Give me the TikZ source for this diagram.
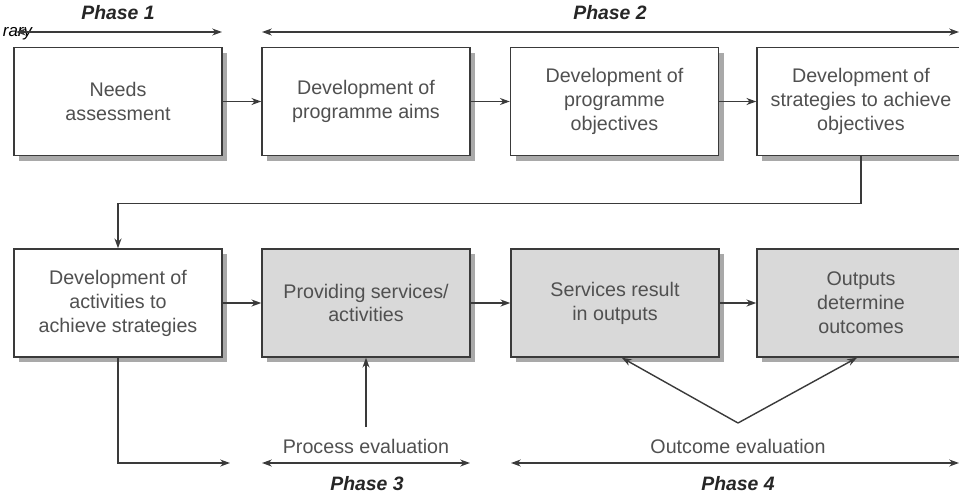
\documentclass[tikz,border=0pt]{standalone}
\usepackage{fontspec}
\setmainfont{Liberation Sans}
\usetikzlibrary{arrows.meta,shadows}

\definecolor{boxline}{HTML}{3A3A3A}
\definecolor{boxtext}{HTML}{505050}
\definecolor{boxgray}{HTML}{D9D9D9}
\definecolor{shadowgray}{HTML}{A9A9A9}

\tikzset{
  stage/.style={draw=boxline,line width=1pt,fill=white,text=boxtext,
    minimum width=5.2cm,minimum height=2.7cm,align=center,
    font=\fontsize{14}{17}\selectfont,
    drop shadow={shadow xshift=3.6pt,shadow yshift=-3.6pt,fill=shadowgray,opacity=1}},
  evalstage/.style={stage,fill=boxgray},
  flow/.style={draw=boxline,line width=1pt,-{Stealth[length=7pt,width=5pt]}},
  span/.style={draw=boxline,line width=1pt,{Stealth[length=7pt,width=5pt]}-{Stealth[length=7pt,width=5pt]}},
  phase/.style={font=\fontsize{13.8}{15}\selectfont\bfseries\itshape,text=black!85},
  evallabel/.style={font=\fontsize{14}{16}\selectfont,text=boxtext}
}

\begin{document}
\begin{tikzpicture}[x=0.025cm,y=-0.025cm]
\useasboundingbox (0,0) rectangle (959,494);

% top row
\node[stage] (needs) at (118,101.5) {Needs\\assessment};
\node[stage] (aims) at (366,101.5) {Development of\\programme aims};
\node[stage] (objs) at (614.5,101.5) {Development of\\programme\\objectives};
\node[stage] (strat) at (861,101.5) {Development of\\strategies to achieve\\objectives};

% bottom row
\node[stage] (activ) at (118,303) {Development of\\activities to\\achieve strategies};
\node[evalstage] (serv) at (366,303) {Providing services/\\activities};
\node[evalstage] (outp) at (615,303) {Services result\\in outputs};
\node[evalstage] (outc) at (861,303) {Outputs\\determine\\outcomes};

\draw[flow] (needs) -- (aims);
\draw[flow] (aims) -- (objs);
\draw[flow] (objs) -- (strat);
\draw[flow] (strat.south) -- ++(0,47) -| (activ.north);
\draw[flow] (activ) -- (serv);
\draw[flow] (serv) -- (outp);
\draw[flow] (outp) -- (outc);

% phases
\node[anchor=base west,font=\fontsize{12}{13}\selectfont\itshape] (lib) at (-2,36) {rary};
\coordinate (ph1l) at (16,32); \coordinate (ph1r) at (222,32);
\coordinate (ph2l) at (262,32); \coordinate (ph2r) at (959,32);
\draw[span] (ph1l) -- (ph1r);
\draw[span] (ph2l) -- (ph2r);
\node[phase] (ph1) at (118,13) {Phase 1};
\node[phase] (ph2) at (610,13) {Phase 2};

% evaluation
\coordinate (gapend) at (230,463);
\coordinate (ph3l) at (262,463); \coordinate (ph3r) at (470,463);
\coordinate (ph4l) at (511,463); \coordinate (ph4r) at (959,463);
\draw[flow] (activ.south) |- (gapend);
\draw[span] (ph3l) -- (ph3r);
\draw[span] (ph4l) -- (ph4r);
\node[evallabel] (proc) at (366,446) {Process evaluation};
\node[evallabel] (outev) at (738,446) {Outcome evaluation};
\coordinate (proctop) at (366,427);
\coordinate (apex) at (738,423);
\draw[flow] (proctop) -- (serv.south);
\draw[flow] (apex) -- ([xshift=0.17cm]outp.south);
\draw[flow] (apex) -- ([xshift=-0.1cm]outc.south);
\node[phase] (ph3) at (367,484) {Phase 3};
\node[phase] (ph4) at (738,484) {Phase 4};
\end{tikzpicture}
\end{document}
